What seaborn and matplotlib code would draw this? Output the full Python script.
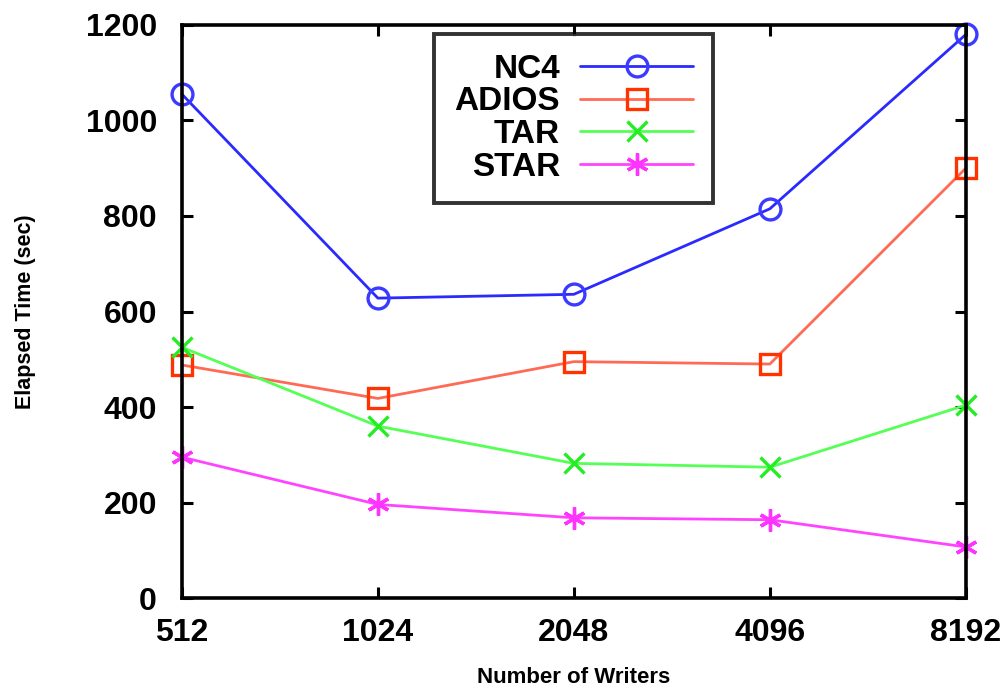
import matplotlib
matplotlib.use("Agg")
import matplotlib.pyplot as plt
import seaborn as sns
import pandas as pd

writers = ["512", "1024", "2048", "4096", "8192"]
nc4 = [1055, 628, 636, 815, 1180]
adios = [488, 418, 495, 490, 900]
tar = [525, 360, 282, 274, 404]
star = [295, 196, 168, 164, 107]

series = {"NC4": nc4, "ADIOS": adios, "TAR": tar, "STAR": star}
line_colors = {"NC4": "#2a2aff", "ADIOS": "#ff6a55", "TAR": "#55ff55", "STAR": "#ff44ff"}
mark_colors = {"NC4": "#3b3bff", "ADIOS": "#ff3300", "TAR": "#22ee22", "STAR": "#ff33ff"}
markers = {"NC4": "o", "ADIOS": "s", "TAR": "x", "STAR": (6, 2, 0)}
msizes = {"NC4": 15, "ADIOS": 15, "TAR": 14, "STAR": 16}

sns.set_style("ticks")
plt.rcParams["font.family"] = ["Liberation Sans", "DejaVu Sans"]
plt.rcParams["font.weight"] = "bold"
for key in ["text.color", "axes.labelcolor", "xtick.color", "ytick.color"]:
    plt.rcParams[key] = "black"

fig = plt.figure(figsize=(10.05, 6.93), dpi=100)
ax = fig.add_axes([0.181, 0.137, 0.78, 0.827])

for name, vals in series.items():
    df = pd.DataFrame({"x": range(len(writers)), "y": vals})
    open_mark = name in ("NC4", "ADIOS")
    sns.lineplot(data=df, x="x", y="y", ax=ax, color=line_colors[name], lw=2,
                 marker=markers[name], markersize=msizes[name],
                 markerfacecolor="none" if open_mark else mark_colors[name],
                 markeredgecolor=mark_colors[name], markeredgewidth=2.4,
                 label=name, clip_on=False)

ax.set_xlim(0, 4)
ax.set_ylim(0, 1200)
ax.set_xticks(range(len(writers)))
ax.set_xticklabels(writers)
ax.set_yticks(range(0, 1201, 200))
ax.tick_params(direction="in", length=8, width=2.2, top=True, right=True,
               labelsize=23, pad=14)
ax.tick_params(axis="y", pad=18)
for lab in ax.get_xticklabels() + ax.get_yticklabels():
    lab.set_fontweight("bold")
for s in ax.spines.values():
    s.set_linewidth(2.6)
    s.set_color("black")

ax.set_xlabel("Number of Writers", fontsize=16, fontweight="bold", labelpad=14)
ax.set_ylabel("Elapsed Time (sec)", fontsize=15.5, fontweight="bold", labelpad=36)

leg = ax.legend(loc="upper center", bbox_to_anchor=(0.5, 0.985), markerfirst=False,
                fontsize=24, frameon=True, fancybox=False, handlelength=3.4,
                handletextpad=0.6, borderpad=0.6, labelspacing=0.05, borderaxespad=0)
leg.get_frame().set_edgecolor("black")
leg.get_frame().set_linewidth(2.8)
for t in leg.get_texts():
    t.set_fontweight("bold")
    t.set_ha("right")

fig.savefig("out.png", dpi=100)
